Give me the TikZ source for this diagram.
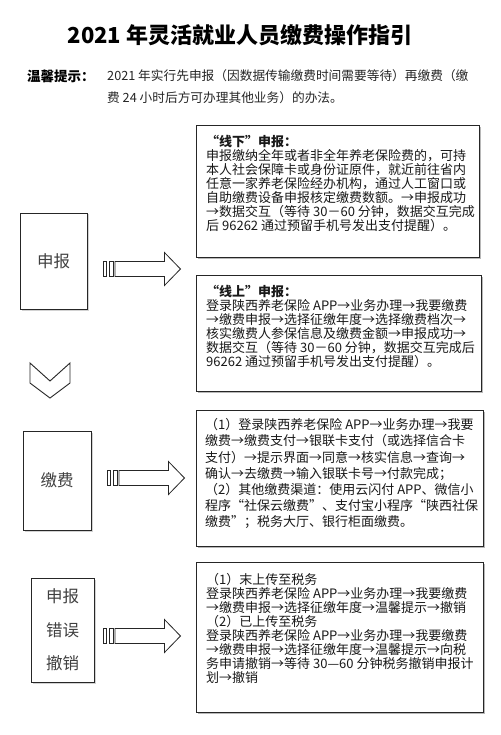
\documentclass[tikz,border=0pt]{standalone}
\usepackage{fontspec}
\setmainfont{Noto Sans CJK SC}
\usetikzlibrary{shadows}
\tikzset{infobox/.style = {draw=black!85, line width=0.9pt, fill=white, anchor=north west, inner sep=0pt,
    drop shadow={shadow xshift=2pt, shadow yshift=-2pt, opacity=0.5, fill=black!55}}}
\tikzset{boxtext/.style = {anchor=north west, inner sep=0pt, align=left, text=black!90}}
\tikzset{sidebox/.style = {draw=black!85, line width=0.9pt, fill=white, inner sep=0pt, align=center, text=black!75,
    font=\fontsize{16.5}{33.5}\selectfont,
    drop shadow={shadow xshift=1.5pt, shadow yshift=-1.5pt, opacity=0.35, fill=black!50}}}
\tikzset{pics/blockarrow/.style = {code={
    \draw[line width=0.8pt, draw=black!85] (0,-7.5) rectangle (3,7.5) (5.5,-7.5) rectangle (10,7.5);
    \draw[line width=0.8pt, draw=black!85] (11.5,-7.5) -- (61,-7.5) -- (61,-16.5) -- (77,0) -- (61,16.5) -- (61,7.5) -- (11.5,7.5) -- cycle;
}}}

\begin{document}
\begin{tikzpicture}[x=1pt,y=-1pt]
	\useasboundingbox[fill=white] (0,0) rectangle (500,735);
	% heading
	\node[font=\bfseries\fontsize{22}{26}\selectfont] (title) at (240,35) {2021 年灵活就业人员缴费操作指引};
	\node[anchor=west, inner sep=0pt, font=\bfseries\fontsize{13.5}{16}\selectfont] (tip) at (27,76) {温馨提示：};
	\node[boxtext, text=black!85, font=\fontsize{12.7}{22}\selectfont] (tiptext) at (107,69.5)
		{2021 年实行先申报（因数据传输缴费时间需要等待）再缴费（缴\\费 24 小时后方可办理其他业务）的办法。};
	% left column
	\node[sidebox, minimum width=67, minimum height=96] (shenbao) at (53.5,261) {申报};
	\draw[line width=0.9pt, draw=black!85] (30,363) -- (50,381) -- (70,363) -- (70,383) -- (50,398) -- (30,383) -- cycle;
	\node[sidebox, minimum width=68, minimum height=99] (jiaofei) at (57,480.5) {缴费};
	\node[sidebox, minimum width=63, minimum height=104] (chexiao) at (62.5,630) {申报\\错误\\撤销};
	\pic at ([xshift=16pt, yshift=-8pt]shenbao.east) {blockarrow};
	\pic at ([xshift=16pt, yshift=2.5pt]jiaofei.east) {blockarrow};
	\pic at ([xshift=9pt, yshift=-6pt]chexiao.east) {blockarrow};
	% right column
	\node[infobox, minimum width=283, minimum height=132] (xianxia) at (196,125) {};
	\node[boxtext, font=\fontsize{13}{13.9}\selectfont] (xianxiat) at (206,135.5)
		{\textbf{“线下”申报：}\\
		申报缴纳全年或者非全年养老保险费的，可持\\
		本人社会保障卡或身份证原件，就近前往省内\\
		任意一家养老保险经办机构，通过人工窗口或\\
		自助缴费设备申报核定缴费数额。→申报成功\\
		→数据交互（等待 30－60 分钟，数据交互完成\\
		后 96262 通过预留手机号发出支付提醒）。};
	\node[infobox, minimum width=285, minimum height=116] (xianshang) at (196,275) {};
	\node[boxtext, font=\fontsize{13}{13.9}\selectfont] (xianshangt) at (206,285.5)
		{\textbf{“线上”申报：}\\
		登录陕西养老保险 APP→业务办理→我要缴费\\
		→缴费申报→选择征缴年度→选择缴费档次→\\
		核实缴费人参保信息及缴费金额→申报成功→\\
		数据交互（等待 30－60 分钟，数据交互完成后\\
		96262 通过预留手机号发出支付提醒）。};
	\node[infobox, minimum width=287, minimum height=136] (zhifu) at (196,410) {};
	\node[boxtext, font=\fontsize{13}{16.1}\selectfont] (zhifut) at (205,418.5)
		{（1）登录陕西养老保险 APP→业务办理→我要\\
		缴费→缴费支付→银联卡支付（或选择信合卡\\
		支付）→提示界面→同意→核实信息→查询→\\
		确认→去缴费→输入银联卡号→付款完成；\\
		（2）其他缴费渠道：使用云闪付 APP、微信小\\
		程序“社保云缴费”、支付宝小程序“陕西社保\\
		缴费”；税务大厅、银行柜面缴费。};
	\node[infobox, minimum width=287, minimum height=150] (cuowu) at (196,562) {};
	\node[boxtext, font=\fontsize{13}{13.9}\selectfont] (cuowut) at (206,573.5)
		{（1）末上传至税务\\
		登录陕西养老保险 APP→业务办理→我要缴费\\
		→缴费申报→选择征缴年度→温馨提示→撤销\\
		（2）已上传至税务\\
		登录陕西养老保险 APP→业务办理→我要缴费\\
		→缴费申报→选择征缴年度→温馨提示→向税\\
		务申请撤销→等待 30—60 分钟税务撤销申报计\\
		划→撤销};
\end{tikzpicture}
\end{document}
